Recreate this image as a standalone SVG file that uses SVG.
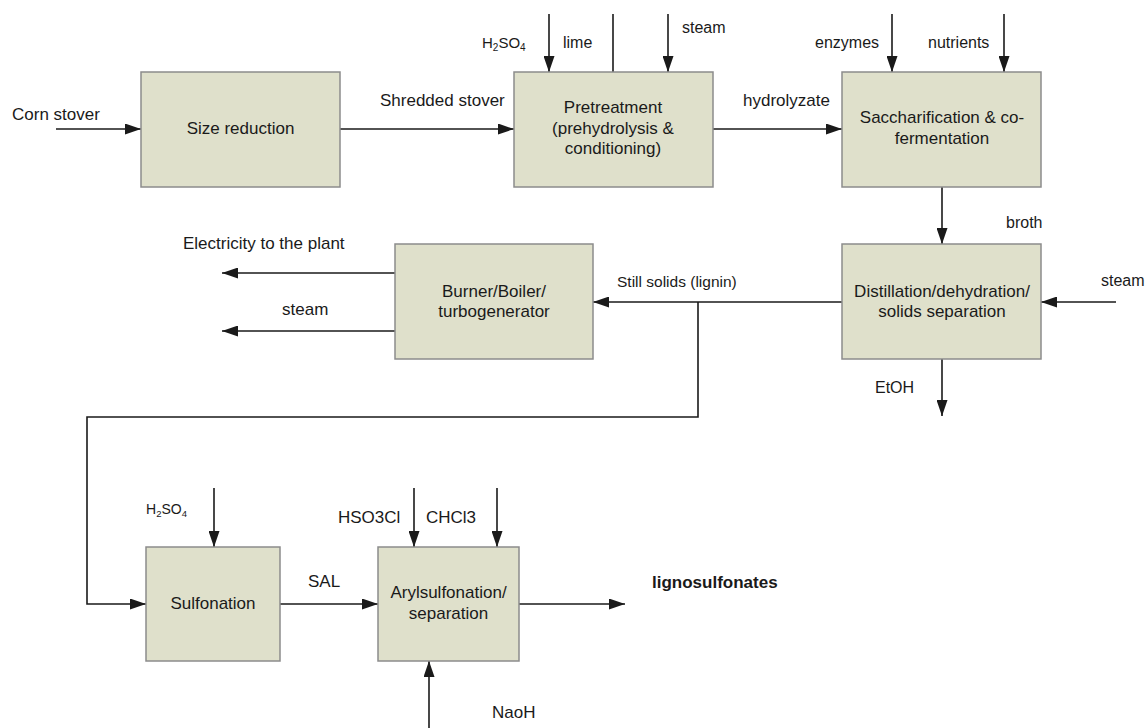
<svg xmlns="http://www.w3.org/2000/svg" width="1148" height="728" viewBox="0 0 1148 728">
<style>
.box{fill:#dfe0cb;stroke:#8c8c8c;stroke-width:1.5}
.t{font-family:"Liberation Sans",Arial,sans-serif;font-size:17px;fill:#1a1a1a}
.s{font-size:16px}
.c{text-anchor:middle}
.b{font-weight:bold}
.ln{fill:none;stroke:#1a1a1a;stroke-width:1.6}
.ar{marker-end:url(#ah)}
</style>
<defs>
<marker id="ah" viewBox="0 0 16 11" refX="16" refY="5.5" markerWidth="16" markerHeight="11" markerUnits="userSpaceOnUse" orient="auto">
<path d="M0,0 L16,5.5 L0,11 z" fill="#1a1a1a"/>
</marker>
</defs>
<rect width="1148" height="728" fill="#fff"/>
<g id="connectors">
<path class="ln ar" d="M56,129 H141"/>
<path class="ln ar" d="M340,129 H514"/>
<path class="ln ar" d="M713,129 H842"/>
<path class="ln ar" d="M549,14 V72"/>
<path class="ln" d="M613,14 V72"/>
<path class="ln ar" d="M668,14 V72"/>
<path class="ln ar" d="M892,14 V72"/>
<path class="ln ar" d="M1004,14 V72"/>
<path class="ln ar" d="M942,187 V244"/>
<path class="ln ar" d="M1116,302 H1041"/>
<path class="ln ar" d="M942,359 V416"/>
<path class="ln ar" d="M842,302 H593"/>
<path class="ln ar" d="M395,273 H222"/>
<path class="ln ar" d="M395,331 H222"/>
<path class="ln ar" d="M698,302 V417 H87 V604 H146"/>
<path class="ln ar" d="M214,488 V547"/>
<path class="ln ar" d="M280,604 H378"/>
<path class="ln ar" d="M414,488 V547"/>
<path class="ln ar" d="M497,488 V547"/>
<path class="ln ar" d="M519,604 H625"/>
<path class="ln ar" d="M429,728 V661"/>
</g>
<g id="labels">
<text class="t" x="12" y="120">Corn stover</text>
<text class="t" x="380" y="106">Shredded stover</text>
<text class="t" x="743" y="106">hydrolyzate</text>
<text class="t" x="482" y="48" style="font-size:15px">H<tspan font-size="10" dy="3">2</tspan><tspan dy="-3">SO</tspan><tspan font-size="10" dy="3">4</tspan></text>
<text class="t s" x="563" y="48">lime</text>
<text class="t s" x="682" y="33">steam</text>
<text class="t s" x="815" y="48">enzymes</text>
<text class="t s" x="928" y="48">nutrients</text>
<text class="t s" x="1006" y="228">broth</text>
<text class="t s" x="1101" y="286">steam</text>
<text class="t s" x="875" y="393">EtOH</text>
<text class="t" x="617" y="287" style="font-size:15.5px">Still solids (lignin)</text>
<text class="t" x="183" y="249">Electricity to the plant</text>
<text class="t" x="282" y="315">steam</text>
<text class="t" x="146" y="514" style="font-size:14px">H<tspan font-size="9.5" dy="3">2</tspan><tspan dy="-3">SO</tspan><tspan font-size="9.5" dy="3">4</tspan></text>
<text class="t" x="308" y="587">SAL</text>
<text class="t" x="338" y="523">HSO3Cl</text>
<text class="t" x="426" y="523">CHCl3</text>
<text class="t b" x="652" y="588">lignosulfonates</text>
<text class="t" x="492" y="718">NaoH</text>
</g>
<g id="size-reduction">
<rect class="box" x="141" y="72" width="199" height="115"/>
<text class="t c" x="240.5" y="134">Size reduction</text>
</g>
<g id="pretreatment">
<rect class="box" x="514" y="72" width="199" height="115"/>
<text class="t c" x="613" y="113">Pretreatment</text>
<text class="t c" x="613" y="133.5">(prehydrolysis &amp;</text>
<text class="t c" x="613" y="154">conditioning)</text>
</g>
<g id="saccharification">
<rect class="box" x="842" y="72" width="199" height="115"/>
<text class="t c" x="942" y="123">Saccharification &amp; co-</text>
<text class="t c" x="942" y="144">fermentation</text>
</g>
<g id="distillation">
<rect class="box" x="842" y="244" width="199" height="115"/>
<text class="t c" x="942" y="297">Distillation/dehydration/</text>
<text class="t c" x="942" y="317">solids separation</text>
</g>
<g id="burner">
<rect class="box" x="395" y="244" width="198" height="115"/>
<text class="t c" x="494" y="297">Burner/Boiler/</text>
<text class="t c" x="494" y="317">turbogenerator</text>
</g>
<g id="sulfonation">
<rect class="box" x="146" y="547" width="134" height="114"/>
<text class="t c" x="213" y="609">Sulfonation</text>
</g>
<g id="arylsulfonation">
<rect class="box" x="378" y="547" width="141" height="114"/>
<text class="t c" x="448.5" y="598">Arylsulfonation/</text>
<text class="t c" x="448.5" y="619">separation</text>
</g>
</svg>
